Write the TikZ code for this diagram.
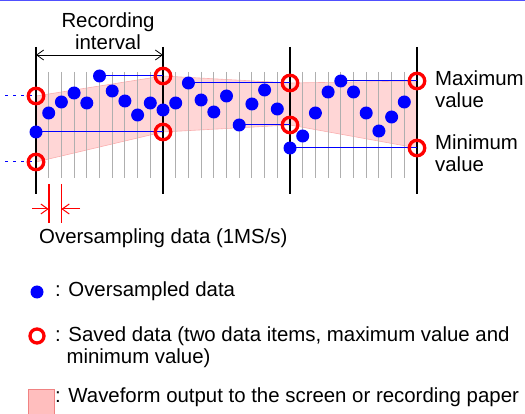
\documentclass[tikz,border=0pt]{standalone}
\usepackage{fontspec}
\setmainfont{Liberation Sans}
\usetikzlibrary{arrows.meta, positioning, calc}
\definecolor{bandpink}{RGB}{255, 214, 214}
\definecolor{bandedge}{RGB}{250, 175, 175}
\definecolor{keypink}{RGB}{255, 190, 190}
\definecolor{keyedge}{RGB}{240, 130, 130}
\definecolor{gridgray}{RGB}{175, 175, 175}
\definecolor{topblue}{RGB}{80, 80, 255}
\pgfdeclarelayer{back}
\pgfsetlayers{back,main}

\begin{document}
\begin{tikzpicture}[x=1pt, y=-1pt, font=\fontsize{20.4}{22}\selectfont,
    sample/.style={circle, fill=blue, minimum size=13pt, inner sep=0pt},
    saved/.style={circle, draw=red, line width=3.3pt, minimum size=15.5pt, inner sep=0pt},
    hold/.style={blue, line width=1pt},
    txt/.style={inner sep=0pt, align=left},
    barb/.tip={Straight Barb[length=7pt, width=10pt]}]
  \useasboundingbox (0,0) rectangle (525,414);
  \draw[topblue, line width=1.2pt] (0,0.6) -- (525,0.6);

  % recording intervals
  \foreach \i in {0,...,3}{
    \coordinate (t\i) at (36+127*\i, 47);
    \coordinate (b\i) at (36+127*\i, 194);
  }
  \begin{pgfonlayer}{back}
    \fill[bandpink, draw=bandedge, line width=0.6pt]
      (36,96) -- (163,76) -- (290,83) -- (417,81) -- (417,148)
      -- (290,125) -- (163,132) -- (36,162) -- cycle;
    \foreach \i in {0,1,2}
      \foreach \j in {1,...,9}
        \draw[gridgray, line width=1pt] (36+127*\i+12.7*\j, 72) -- (36+127*\i+12.7*\j, 178);
    \foreach \i in {0,...,3}
      \draw[line width=2pt] (t\i) -- (b\i);
  \end{pgfonlayer}

  % oversampled points
  \foreach \y [count=\k from 0] in {132,113,102,93,103,76,91,101,115,103,
      110,103,83,100,112,96,125,104,90,109,
      148,136,113,92,81,92,113,131,117,102}
    \node[sample] (d\k) at (36+12.7*\k, \y) {};

  % saved max / min
  \foreach \i/\ya/\yb in {0/96/162, 1/76/132, 2/83/125, 3/81/148}{
    \node[saved] (hi\i) at (36+127*\i, \ya) {};
    \node[saved] (lo\i) at (36+127*\i, \yb) {};
  }
  \coordinate (inhi) at (5,96);
  \coordinate (inlo) at (5,162);
  \begin{pgfonlayer}{back}
    \draw[hold, dash pattern=on 3pt off 5pt] (inhi) -- (hi0.center);
    \draw[hold, dash pattern=on 3pt off 5pt] (inlo) -- (lo0.center);
    \draw[hold] (d5.center) -- (hi1.center);
    \draw[hold] (d0.center) -- (lo1.center);
    \draw[hold] (d12.center) -- (hi2.center);
    \draw[hold] (d16.center) -- (lo2.center);
    \draw[hold] (d24.center) -- (hi3.center);
    \draw[hold] (d20.center) -- (lo3.center);
  \end{pgfonlayer}

  % labels
  \node[txt, align=center] (rec) at (108,31) {Recording\\interval};
  \coordinate (ra) at (36,55);
  \coordinate (rb) at (163,55);
  \draw[barb-barb, line width=0.8pt] (ra) -- (rb);
  \node[txt, anchor=west] (maxlbl) at (435,89) {Maximum\\value};
  \node[txt, anchor=west] (minlbl) at (435,153) {Minimum\\value};

  % oversampling period
  \coordinate (m1t) at (48.7,184);
  \coordinate (m1b) at (48.7,223);
  \coordinate (m2t) at (61.4,184);
  \coordinate (m2b) at (61.4,223);
  \draw[red, line width=1.8pt] (m1t) -- (m1b);
  \draw[red, line width=1.8pt] (m2t) -- (m2b);
  \coordinate (ma) at (32,209);
  \coordinate (mb) at (80,209);
  \draw[red, line width=1pt, -barb] (ma) -- (ma -| m1t);
  \draw[red, line width=1pt, -barb] (mb) -- (mb -| m2t);
  \node[txt, anchor=west] (rate) at (39,238) {Oversampling data (1MS/s)};

  % legend
  \node[sample] (keydot) at (37,292) {};
  \node[txt, anchor=west] (keydottxt) at (55,291) {: Oversampled data};
  \node[saved, minimum size=14pt] (keyring) at (37,336) {};
  \node[txt, anchor=west] (keyringtxt) at (55,347)
    {: Saved data (two data items, maximum value and\\\phantom{:\ }minimum value)};
  \node[draw=keyedge, fill=keypink, minimum width=26pt, minimum height=25pt,
        inner sep=0pt] (keyband) at (41,401.5) {};
  \node[txt, anchor=west] (keybandtxt) at (55,397)
    {: Waveform output to the screen or recording paper};
\end{tikzpicture}
\end{document}
